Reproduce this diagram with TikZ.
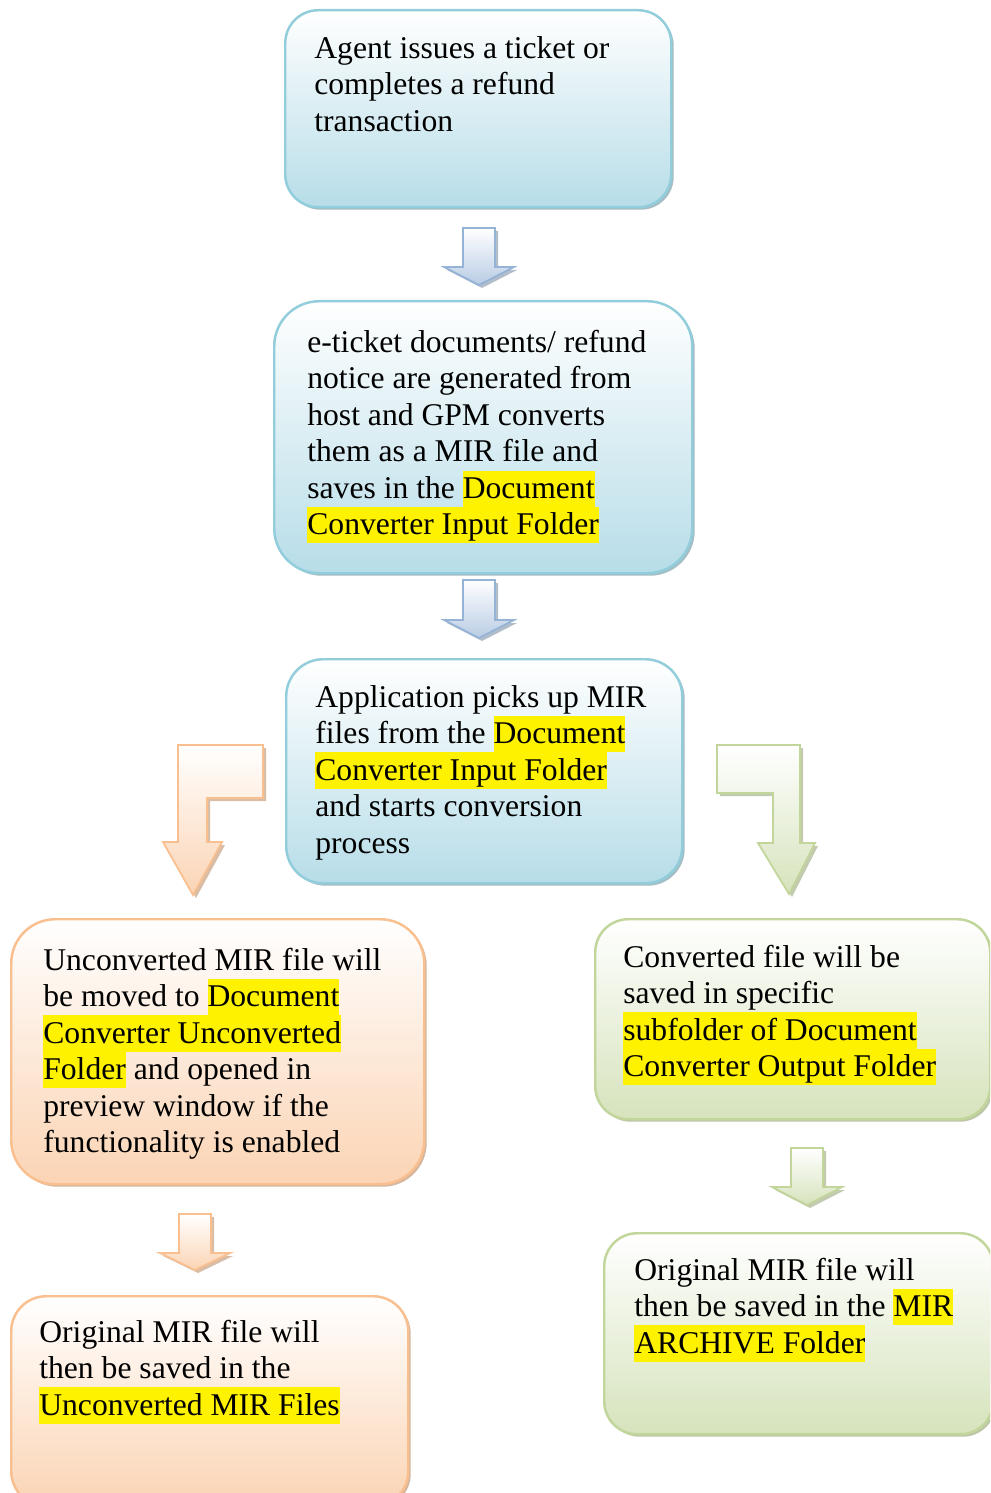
\documentclass[tikz,border=0pt]{standalone}
\usepackage{fontspec}
\setmainfont{Liberation Serif}
\usetikzlibrary{shadows}

\definecolor{aqualine}{RGB}{146,205,220}
\definecolor{aquafill}{RGB}{183,221,232}
\definecolor{aquashade}{RGB}{105,145,158}
\definecolor{peachline}{RGB}{250,191,143}
\definecolor{peachfill}{RGB}{251,212,180}
\definecolor{peachshade}{RGB}{185,135,95}
\definecolor{oliveline}{RGB}{194,214,155}
\definecolor{olivefill}{RGB}{214,227,188}
\definecolor{oliveshade}{RGB}{145,160,110}
\definecolor{steelline}{RGB}{149,179,215}
\definecolor{steelfill}{RGB}{184,204,228}
\definecolor{steelshade}{RGB}{115,135,160}

\newcommand{\lnstrut}{\rule[-4.8pt]{0pt}{20.6pt}}
\newcommand{\hilite}[1]{{\setlength{\fboxsep}{0pt}\colorbox{yellow}{\lnstrut#1}}}
% block arrow pointing down: style, centre x, top, head top, tip
\newcommand{\downblock}[5]{%
  \draw[#1] (#2-16,#3) -- (#2+16,#3) -- (#2+16,#4) -- (#2+35,#4)
    -- (#2,#5) -- (#2-35,#4) -- (#2-16,#4) -- cycle;}

\tikzset{
  flowbox/.style={rectangle, anchor=north west, line width=1.4pt, inner sep=0pt},
  boxsize/.style 2 args={minimum width=#1*0.02cm, minimum height=#2*0.02cm},
  bluebox/.style={flowbox, draw=aqualine, top color=white, middle color=aquafill!45,
    bottom color=aquafill,
    drop shadow={shadow xshift=0.05cm, shadow yshift=-0.05cm, fill=aquashade, opacity=0.6}},
  orangebox/.style={flowbox, draw=peachline, top color=white, middle color=peachfill!45,
    bottom color=peachfill,
    drop shadow={shadow xshift=0.05cm, shadow yshift=-0.05cm, fill=peachshade, opacity=0.6}},
  greenbox/.style={flowbox, draw=oliveline, top color=white, middle color=olivefill!45,
    bottom color=olivefill,
    drop shadow={shadow xshift=0.05cm, shadow yshift=-0.05cm, fill=oliveshade, opacity=0.6}},
  boxtext/.style={anchor=north west, inner sep=0pt, align=left,
    font=\fontsize{18pt}{20.8pt}\selectfont},
  bluearrow/.style={line width=1pt, draw=steelline, top color=white, bottom color=steelfill,
    drop shadow={shadow xshift=0.06cm, shadow yshift=-0.06cm, fill=steelshade, opacity=0.55}},
  orangearrow/.style={line width=1pt, draw=peachline, top color=white, bottom color=peachfill,
    drop shadow={shadow xshift=0.06cm, shadow yshift=-0.06cm, fill=peachshade, opacity=0.55}},
  greenarrow/.style={line width=1pt, draw=oliveline, top color=white, bottom color=olivefill,
    drop shadow={shadow xshift=0.06cm, shadow yshift=-0.06cm, fill=oliveshade, opacity=0.55}},
}

\begin{document}
\begin{tikzpicture}[x=0.02cm, y=-0.02cm]
	\clip (0,0) rectangle (990,1493);
	\fill[white] (0,0) rectangle (990,1493);

	% middle column
	\node[bluebox, boxsize={386}{197}, rounded corners=0.66cm] (agent) at (284,9) {};
	\node[boxtext] (agent-t) at (314,30) {\lnstrut Agent issues a ticket or\\
		completes a refund\\
		transaction};

	\downblock{bluearrow}{479}{228}{267}{285}

	\node[bluebox, boxsize={418}{272}, rounded corners=0.9cm] (generate) at (273,300) {};
	\node[boxtext] (generate-t) at (307,324) {\lnstrut e-ticket documents/ refund\\
		notice are generated from\\
		host and GPM converts\\
		them as a MIR file and\\
		saves in the \hilite{Document}\\
		\hilite{Converter Input Folder}};

	\downblock{bluearrow}{479}{580}{620}{638}

	\node[bluebox, boxsize={396}{224}, rounded corners=0.74cm] (pickup) at (285,658) {};
	\node[boxtext] (pickup-t) at (315,679) {\lnstrut Application picks up MIR\\
		files from the \hilite{Document}\\
		\hilite{Converter Input Folder}\\
		and starts conversion\\
		process};

	% bent arrows
	\draw[orangearrow] (178,745) -- (263,745) -- (263,798) -- (207,798) -- (207,842)
		-- (222,842) -- (193,895) -- (163,842) -- (178,842) -- cycle;
	\draw[greenarrow] (717,745) -- (800,745) -- (800,843) -- (815,843) -- (789,894)
		-- (758,843) -- (773,843) -- (773,793) -- (717,793) -- cycle;

	% left column
	\node[orangebox, boxsize={413}{265}, rounded corners=0.88cm] (unconverted) at (10,918) {};
	\node[boxtext] (unconverted-t) at (43,942) {\lnstrut Unconverted MIR file will\\
		be moved to \hilite{Document}\\
		\hilite{Converter Unconverted}\\
		\hilite{Folder} and opened in\\
		preview window if the\\
		functionality is enabled};

	\downblock{orangearrow}{195}{1214}{1253}{1270}

	\node[orangebox, boxsize={397}{210}, rounded corners=0.7cm] (unarchive) at (10,1295) {};
	\node[boxtext] (unarchive-t) at (39,1314) {\lnstrut Original MIR file will\\
		then be saved in the\\
		\hilite{Unconverted MIR Files}};

	% right column
	\node[greenbox, boxsize={395}{200}, rounded corners=0.66cm] (converted) at (594,918) {};
	\node[boxtext] (converted-t) at (623,939) {\lnstrut Converted file will be\\
		saved in specific\\
		\hilite{subfolder of Document}\\
		\hilite{Converter Output Folder}};

	\downblock{greenarrow}{807}{1148}{1187}{1205}

	\node[greenbox, boxsize={389}{201}, rounded corners=0.66cm] (archive) at (603,1232) {};
	\node[boxtext] (archive-t) at (634,1252) {\lnstrut Original MIR file will\\
		then be saved in the \hilite{MIR}\\
		\hilite{ARCHIVE Folder}};
\end{tikzpicture}
\end{document}
